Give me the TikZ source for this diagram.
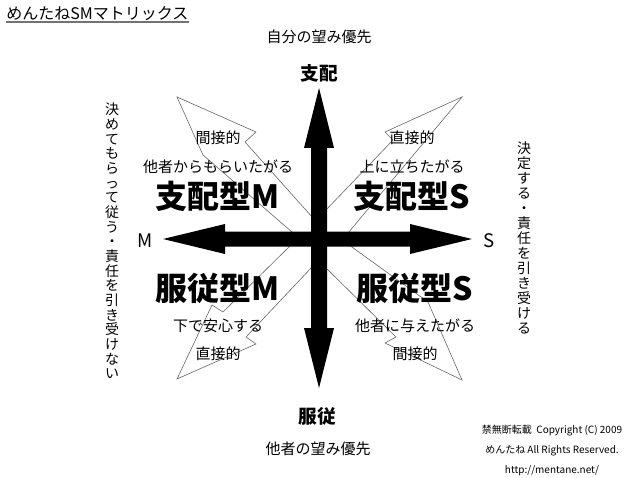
\documentclass[tikz,border=0pt]{standalone}
\usepackage{fontspec}
\setmainfont{Noto Sans CJK JP}

\begin{document}
\begin{tikzpicture}[x=0.75pt,y=-0.75pt,inner sep=0pt,node distance=22pt]
  \tikzstyle{heavy}=[fill=black,draw=none]
  \tikzstyle{outline}=[draw=black!60,line width=0.45pt]
  \tikzstyle{axis}=[font=\fontsize{14}{16}\selectfont\bfseries]
  \tikzstyle{side}=[font=\fontsize{14}{16}\selectfont]
  \tikzstyle{kind}=[font=\fontsize{24}{28}\selectfont\bfseries]
  \tikzstyle{note}=[font=\fontsize{11.25}{13}\selectfont]
  \tikzstyle{column}=[align=center,font=\fontsize{10.5}{11}\selectfont]
  \tikzstyle{small}=[align=center,font=\fontsize{7.5}{15}\selectfont]

  \useasboundingbox (0,0) rectangle (640,478);

  % thin arrows to the corners
  \draw[outline] (177,97) -- (256,132) -- (245,142) -- (313,218) -- (319,239)
                 -- (300,239) -- (203,155) -- cycle;
  \draw[outline] (462,97) -- (385,132) -- (393,140) -- (326,210) -- (319,239)
                 -- (343,239) -- cycle;
  \draw[outline] (177,379) -- (212,305) -- (223,312) -- (292,244) -- (319,239)
                 -- (313,266) -- (246,337) -- (256,344) -- cycle;
  \draw[outline] (462,380) -- (428,302) -- (345,242) -- (319,239) -- (322,264)
                 -- (396,337) -- (385,343) -- cycle;

  % the cross
  \fill[heavy] (319,88) -- (334,148) -- (327,148) -- (327,328) -- (334,328)
               -- (319,388) -- (304,328) -- (311,328) -- (311,148) -- (304,148) -- cycle;
  \fill[heavy] (163,239) -- (225,224) -- (225,231.5) -- (410,231.5) -- (410,224)
               -- (472,239) -- (410,254) -- (410,246.5) -- (225,246.5) -- (225,254) -- cycle;

  \node[font=\fontsize{12}{14}\selectfont,anchor=west] (title) at (6,14) {めんたねSMマトリックス};
  \draw[black!55,line width=1.3pt] ([yshift=-0.5pt]title.south west) -- ([yshift=-0.5pt]title.south east);

  \node[note] (goalTop)    at (319,37)  {自分の望み優先};
  \node[axis] (dominate)   at (319,73)  {支配};
  \node[axis] (submit)     at (317,416) {服従};
  \node[note] (goalBottom) at (318,449) {他者の望み優先};
  \node[side] (mSide)      at (145,241) {M};
  \node[side] (sSide)      at (489,241) {S};

  \node[kind] (ulKind) at (218,196) {支配型M};
  \node[note] (ulWant) [above of=ulKind] {他者からもらいたがる};
  \node[note] (ulWay)  [above of=ulWant] {間接的};

  \node[kind] (urKind) at (412,196) {支配型S};
  \node[note] (urWant) [above of=urKind] {上に立ちたがる};
  \node[note] (urWay)  [above of=urWant] {直接的};

  \node[kind] (llKind) at (218,288) {服従型M};
  \node[note] (llWant) [below of=llKind,node distance=28.5pt] {下で安心する};
  \node[note] (llWay)  [below of=llWant,node distance=21pt] {直接的};

  \node[kind] (lrKind) at (415,288) {服従型S};
  \node[note] (lrWant) [below of=lrKind,node distance=28.5pt] {他者に与えたがる};
  \node[note] (lrWay)  [below of=lrWant,node distance=21pt] {間接的};

  \node[column] (leftSide) at (112,241)
    {決\\め\\て\\も\\ら\\っ\\て\\従\\う\\・\\責\\任\\を\\引\\き\\受\\け\\な\\い};
  \node[column,font=\fontsize{10.5}{11.25}\selectfont] (rightSide) at (524,238)
    {決\\定\\す\\る\\・\\責\\任\\を\\引\\き\\受\\け\\る};

  \node[small] (notice) at (552,450)
    {禁無断転載\ \ Copyright (C) 2009\\めんたね All Rights Reserved.\\http://mentane.net/};

\end{tikzpicture}
\end{document}
